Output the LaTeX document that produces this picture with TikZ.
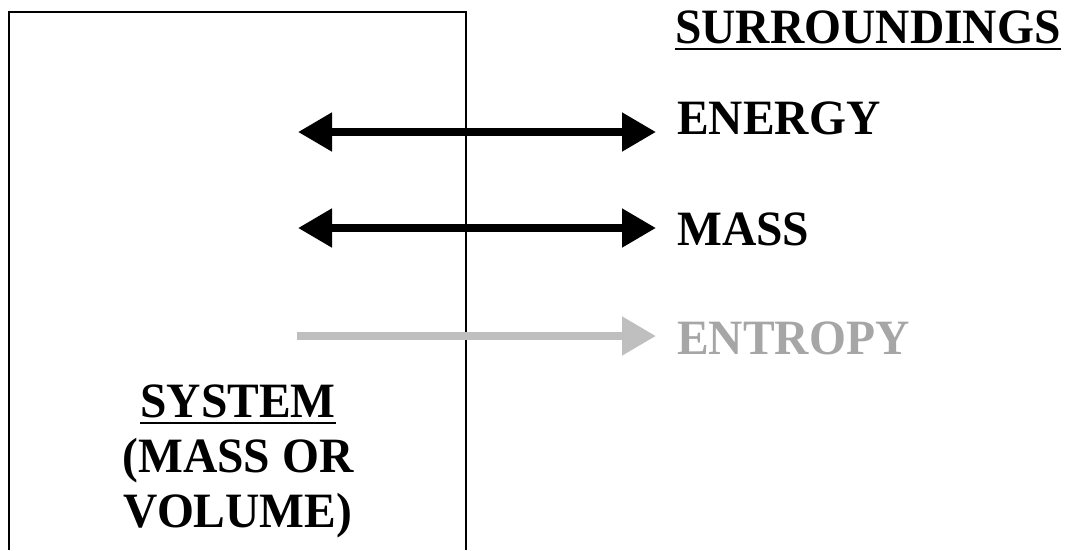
\documentclass[tikz,border=0pt]{standalone}
\usepackage{fontspec}
\setmainfont{Liberation Serif}
\usetikzlibrary{arrows.meta}
\definecolor{lightgr}{gray}{0.75}
\definecolor{textgr}{gray}{0.65}
\newcommand{\tall}[1]{\scalebox{1}[1.04]{#1}}
\begin{document}
\begin{tikzpicture}[x=1pt,y=-1pt,
  lbl/.style={font=\fontsize{47.5}{55}\selectfont\bfseries, inner sep=0pt, anchor=base west},
  syslbl/.style={font=\fontsize{47.5}{55}\selectfont\bfseries, inner sep=0pt, anchor=base},
  tip/.tip={Triangle[length=34pt,width=37pt]},
  flow/.style={line width=8pt, tip-tip},
  oneway/.style={line width=8pt, -tip, draw=lightgr},
  uline/.style={line width=1.6pt}]
\useasboundingbox (0,0) rectangle (1070,550);
% system boundary (open at bottom, continues past the frame)
\coordinate (bl) at (9,550);
\coordinate (tl) at (9,12);
\coordinate (tr) at (466,12);
\coordinate (br) at (466,550);
\draw[line width=1.6pt] (bl) -- (tl) -- (tr) -- (br);
% labels
\node[lbl] (sur) at (675,43) {\tall{SURROUNDINGS}};
\draw[uline] ([yshift=-6pt]sur.base west) -- ([yshift=-6pt]sur.base east);
\node[lbl] (energy) at (677,134) {\tall{ENERGY}};
\node[lbl] (mass) at (677,245) {\tall{MASS}};
\node[lbl, text=textgr] (entropy) at (677,354) {\tall{ENTROPY}};
\node[syslbl] (sys1) at (238,417) {\tall{SYSTEM}};
\draw[uline] ([yshift=-6pt]sys1.base west) -- ([yshift=-6pt]sys1.base east);
\node[syslbl] (sys2) at (238,472) {\tall{(MASS OR}};
\node[syslbl] (sys3) at (238,527) {\tall{VOLUME)}};
% arrows
\coordinate (e1) at (298,132); \coordinate (e2) at (656,132);
\coordinate (m1) at (298,228); \coordinate (m2) at (656,228);
\coordinate (s1) at (297,336); \coordinate (s2) at (656,336);
\draw[flow] (e1) -- (e2);
\draw[flow] (m1) -- (m2);
\draw[oneway] (s1) -- (s2);
\end{tikzpicture}
\end{document}
